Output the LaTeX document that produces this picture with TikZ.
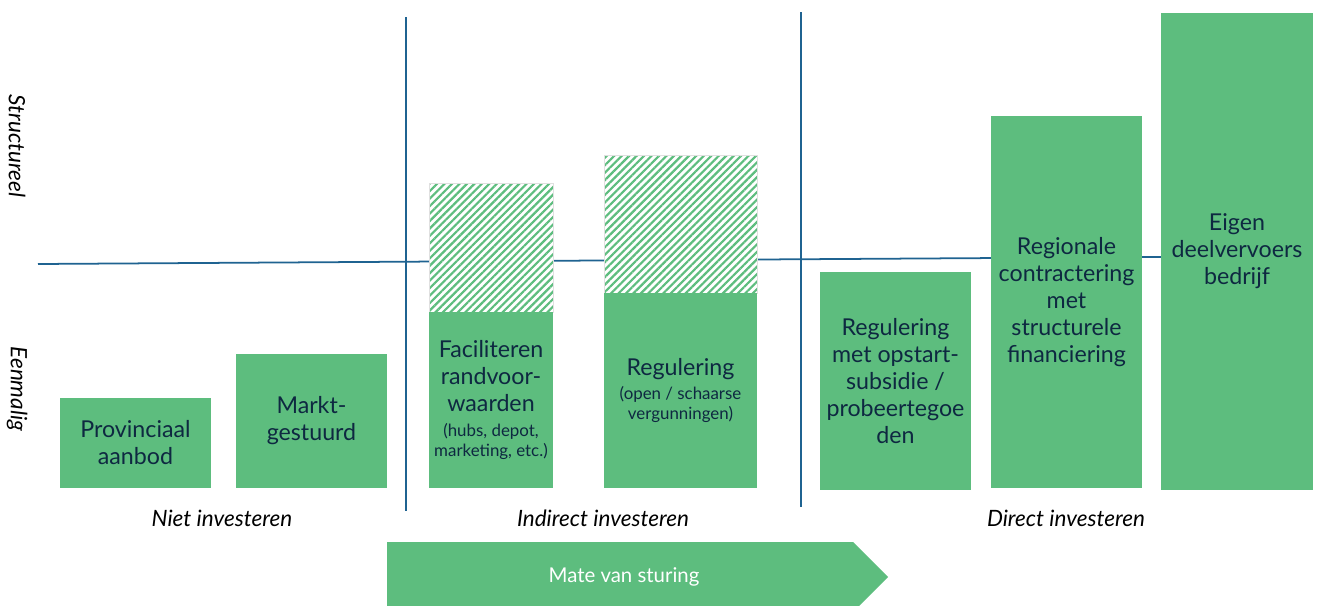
\documentclass[tikz,border=0pt]{standalone}
\usepackage{fontspec}
\setmainfont{Lato}
\usepackage{tikz}
\usetikzlibrary{patterns.meta}
\definecolor{boxgreen}{HTML}{5DBD7E}
\definecolor{axisblue}{HTML}{1F6391}
\definecolor{boxtext}{HTML}{0E2841}
\tikzset{
  boxlabel/.style={text=boxtext,align=center,font=\fontsize{6.6}{7.7}\selectfont,inner sep=0pt},
  axislabel/.style={font=\fontsize{6.4}{7.4}\selectfont\itshape,inner sep=0pt},
  axisline/.style={draw=axisblue,line width=.5pt}
}
\newcommand{\smalltext}{\fontsize{4.8}{5.7}\selectfont}
% solid green box with centred label: name, x1, y1, x2, y2, text
\newcommand{\grbox}[6]{
\fill[boxgreen] (#2,#3) rectangle (#4,#5);
\node[boxlabel] (#1) at ({.5*#2+.5*#4},{.5*#3+.5*#5}) {#6};
}
% hatched part on top of a box
\newcommand{\hatchbox}[4]{
\fill[white] (#1,#2) rectangle (#3,#4);
\path[draw=black!12,line width=.2pt,pattern={Lines[angle=45,distance=1.5pt,line width=.62pt]},pattern color=boxgreen] (#1,#2) rectangle (#3,#4);
}

\begin{document}
\begin{tikzpicture}[x=0.01cm,y=-0.01cm]
\useasboundingbox (0,0) rectangle (1317,606);

% axes
\draw[axisline] (38,264) -- (1161,257);
\draw[axisline] (406,17) -- (406,511);
\draw[axisline] (801,12) -- (801,507);

\node[axislabel,rotate=-90] (structureel) at (17,146) {Structureel};
\node[axislabel,rotate=-90] (eenmalig) at (17,389) {Eenmalig};

% niet investeren
\grbox{provinciaal}{60}{398}{211}{488}{Provinciaal\\aanbod}
\grbox{markt}{236}{354}{387}{488}{Markt-\\gestuurd}

% indirect investeren
\hatchbox{429}{183}{553}{312}
\grbox{faciliteren}{429}{312}{553}{488}{Faciliteren\\randvoor-\\waarden\\[-0.7pt]{\smalltext(hubs, depot,}\\[-2pt]{\smalltext marketing, etc.)}}
\hatchbox{604}{155}{757}{293}
\grbox{regulering}{604}{293}{757}{488}{Regulering\\[-0.9pt]{\smalltext(open / schaarse}\\[-2pt]{\smalltext vergunningen)}}

% direct investeren
\grbox{opstart}{820}{272}{971}{490}{Regulering\\met opstart-\\subsidie /\\probeertegoe\\den}
\grbox{regionale}{991}{116}{1142}{488}{Regionale\\contractering\\met\\structurele\\financiering}
\grbox{eigen}{1161}{13}{1313}{490}{Eigen\\deelvervoers\\bedrijf}

\node[axislabel] (niet) at (222,518) {Niet investeren};
\node[axislabel] (indirect) at (603,518) {Indirect investeren};
\node[axislabel] (direct) at (1066,518) {Direct investeren};

% arrow
\fill[boxgreen] (387,542) -- (853,542) -- (888,577) -- (859,606) -- (387,606) -- cycle;
\node[text=white,font=\fontsize{5.8}{7}\selectfont] (sturing) at (624,577) {Mate van sturing};
\end{tikzpicture}
\end{document}
